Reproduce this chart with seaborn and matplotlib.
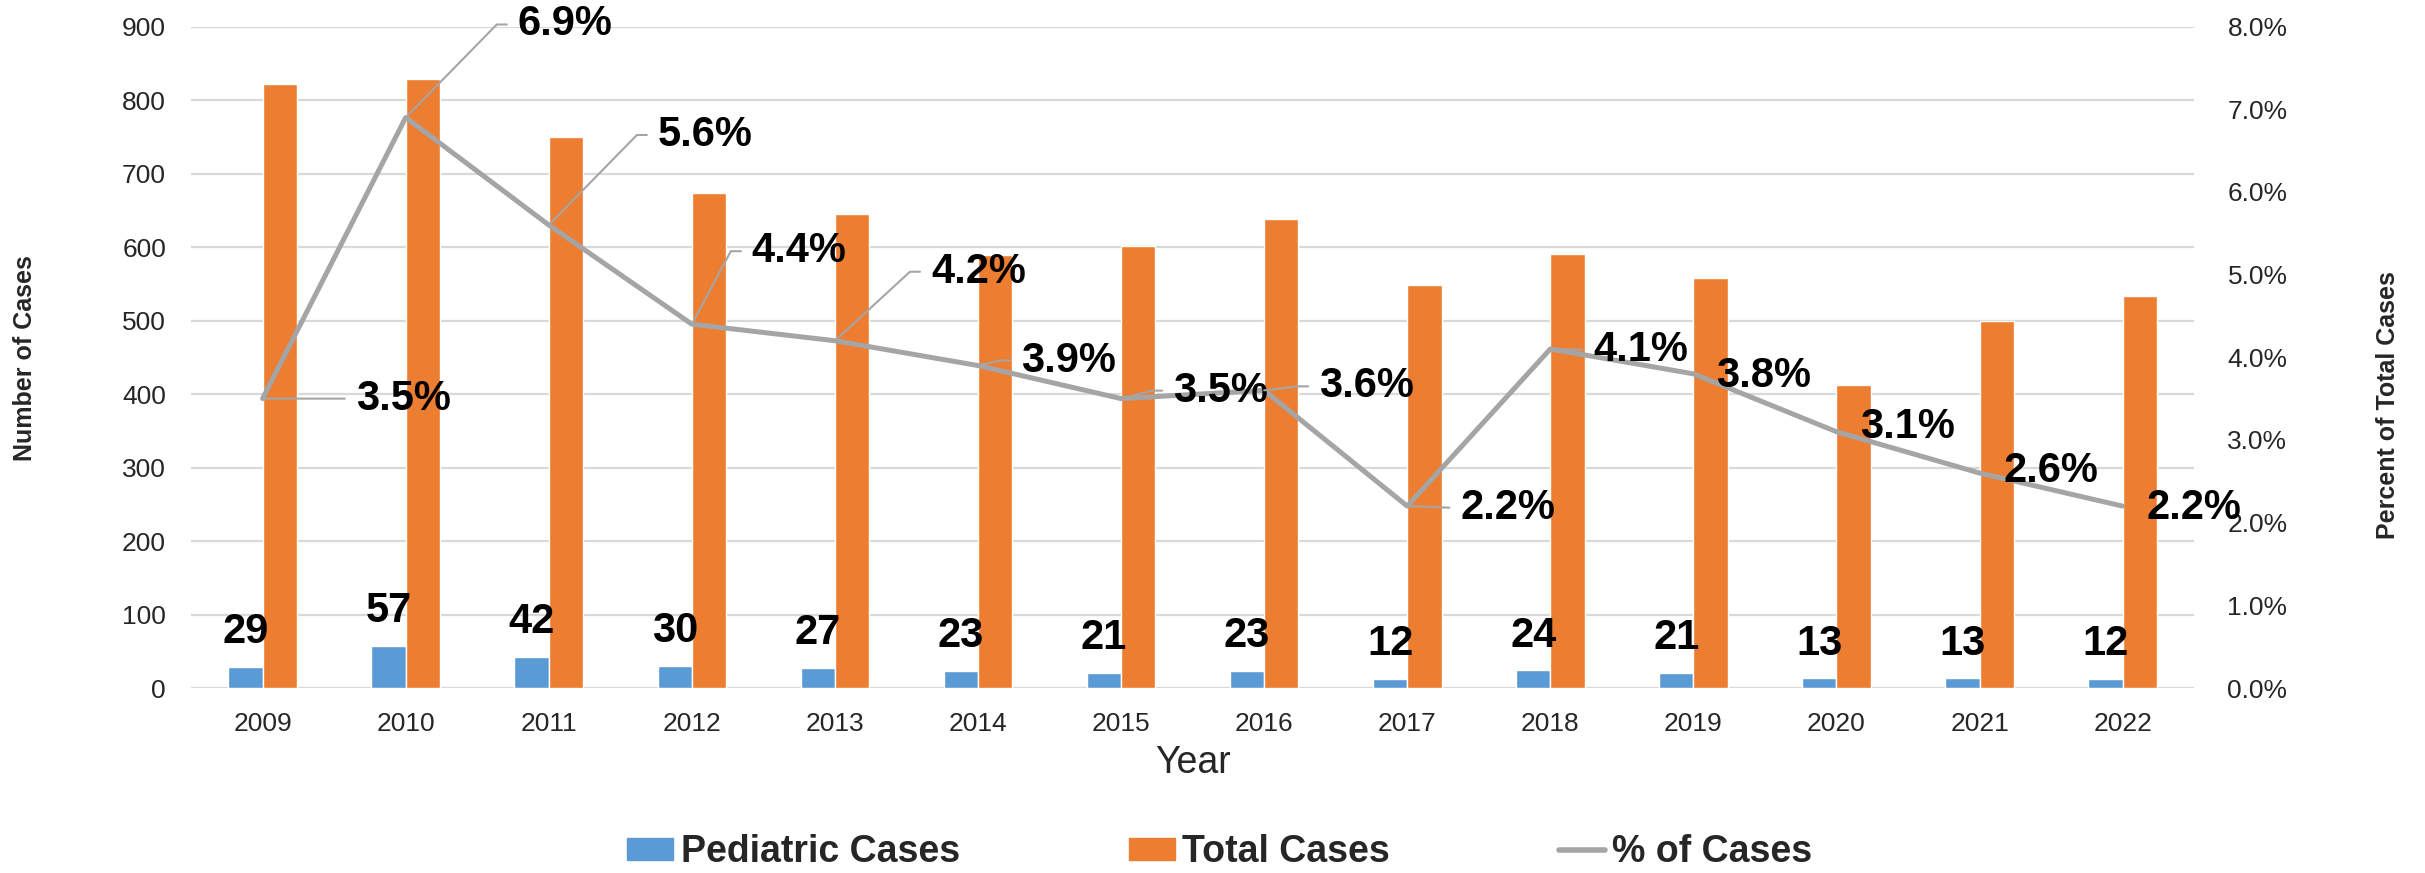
import math

import matplotlib
matplotlib.use("Agg")
import matplotlib.pyplot as plt
from matplotlib.patches import Patch
from matplotlib.lines import Line2D
import numpy as np
import pandas as pd
import seaborn as sns

years = ["2009", "2010", "2011", "2012", "2013", "2014", "2015",
         "2016", "2017", "2018", "2019", "2020", "2021", "2022"]
pediatric_cases = [29, 57, 42, 30, 27, 23, 21, 23, 12, 24, 21, 13, 13, 12]
total_cases = [822, 828, 750, 674, 645, 589, 601, 638, 548, 591, 558, 412, 499, 534]
pct_of_cases = [3.5, 6.9, 5.6, 4.4, 4.2, 3.9, 3.5, 3.6, 2.2, 4.1, 3.8, 3.1, 2.6, 2.2]

BLUE = "#5B9BD5"
ORANGE = "#ED7D31"
GREY = "#A5A5A5"
GRID = "#D9D9D9"

# where each % label sits from its point, in pixels (right, up) - Excel style placement
pct_label_offsets = [(93, 0), (112, 93), (109, 90), (60, 73), (96, 69), (43, 5), (52, 8),
                     (55, 4), (53, -2), (43, -1), (23, -2), (24, 5), (24, 2), (24, -2)]

sns.set_style("white")
plt.rcParams["font.family"] = ["Liberation Sans", "DejaVu Sans"]

df = pd.DataFrame({
    "Year": years * 2,
    "Cases": pediatric_cases + total_cases,
    "Series": ["Pediatric Cases"] * len(years) + ["Total Cases"] * len(years),
})

fig = plt.figure(figsize=(24.25, 8.73), dpi=100)
ax = fig.add_axes([0.0788, 0.2119, 0.8260, 0.7577])

sns.barplot(data=df, x="Year", y="Cases", hue="Series", ax=ax, width=0.48, gap=0,
            saturation=1, palette={"Pediatric Cases": BLUE, "Total Cases": ORANGE},
            legend=False)

ax.set_ylim(0, 900)
ax.set_yticks(np.arange(0, 901, 100))
ax.set_xlim(-0.5, len(years) - 0.5)
ax.set_xlabel("")
ax.set_ylabel("")
ax.set_axisbelow(True)
ax.yaxis.grid(True, color=GRID, lw=1.6)
ax.xaxis.grid(False)
ax.tick_params(axis="y", length=0, labelsize=19, pad=18)
ax.tick_params(axis="x", length=0, labelsize=19, pad=17)
for s in ax.spines.values():
    s.set_visible(False)

# pediatric counts above the blue bars
for bar, v in zip(ax.containers[0], pediatric_cases):
    ax.annotate(f"{v}", (bar.get_x() + bar.get_width() / 2, bar.get_height()),
                xytext=(0, 25), textcoords="offset points", ha="center", va="center",
                fontsize=30, fontweight="bold", color="black")

ax2 = ax.twinx()
sns.lineplot(x=np.arange(len(years)), y=pct_of_cases, ax=ax2, color=GREY, lw=3.6)
ax2.set_ylim(0, 8)
ax2.set_yticks(np.arange(0, 8.1, 1))
ax2.set_yticklabels([f"{t:.1f}%" for t in np.arange(0, 8.1, 1)])
ax2.tick_params(axis="y", length=0, labelsize=19, pad=24)
ax2.set_ylabel("")
for s in ax2.spines.values():
    s.set_visible(False)

px = 72 / 100
for i, (v, (dx, dy)) in enumerate(zip(pct_of_cases, pct_label_offsets)):
    arrow = None
    if dx >= 30:
        if abs(dy) <= 3:
            conn = "arc3"
        else:
            ang = math.degrees(math.atan2(dy, dx - 21))
            conn = f"angle,angleA=0,angleB={ang:.1f},rad=0"
        arrow = dict(arrowstyle="-", color=GREY, lw=1.5, shrinkA=5.5, shrinkB=0,
                     relpos=(0, 0.5), connectionstyle=conn)
    ax2.annotate(f"{v:.1f}%", (i, v), xytext=(dx * px, dy * px), textcoords="offset points",
                 ha="left", va="center", fontsize=30, fontweight="bold", color="black",
                 arrowprops=arrow, zorder=5)

fig.text(0.492, 0.126, "Year", ha="center", va="center", fontsize=27)
fig.text(0.0103, 0.59, "Number of Cases", rotation=90, ha="center", va="center",
         fontsize=18, fontweight="bold")
fig.text(0.9847, 0.536, "Percent of Total Cases", rotation=90, ha="center", va="center",
         fontsize=18, fontweight="bold")

handles = [Patch(color=BLUE, label="Pediatric Cases"),
           Patch(color=ORANGE, label="Total Cases"),
           Line2D([], [], color=GREY, lw=4, label="% of Cases")]
fig.legend(handles=handles, loc="center", bbox_to_anchor=(0.503, 0.024), ncol=3,
           frameon=False, prop={"size": 27, "weight": "bold"}, handlelength=1.23,
           handleheight=0.53, handletextpad=0.2, columnspacing=4.5)

fig.savefig("out.png", dpi=100)
